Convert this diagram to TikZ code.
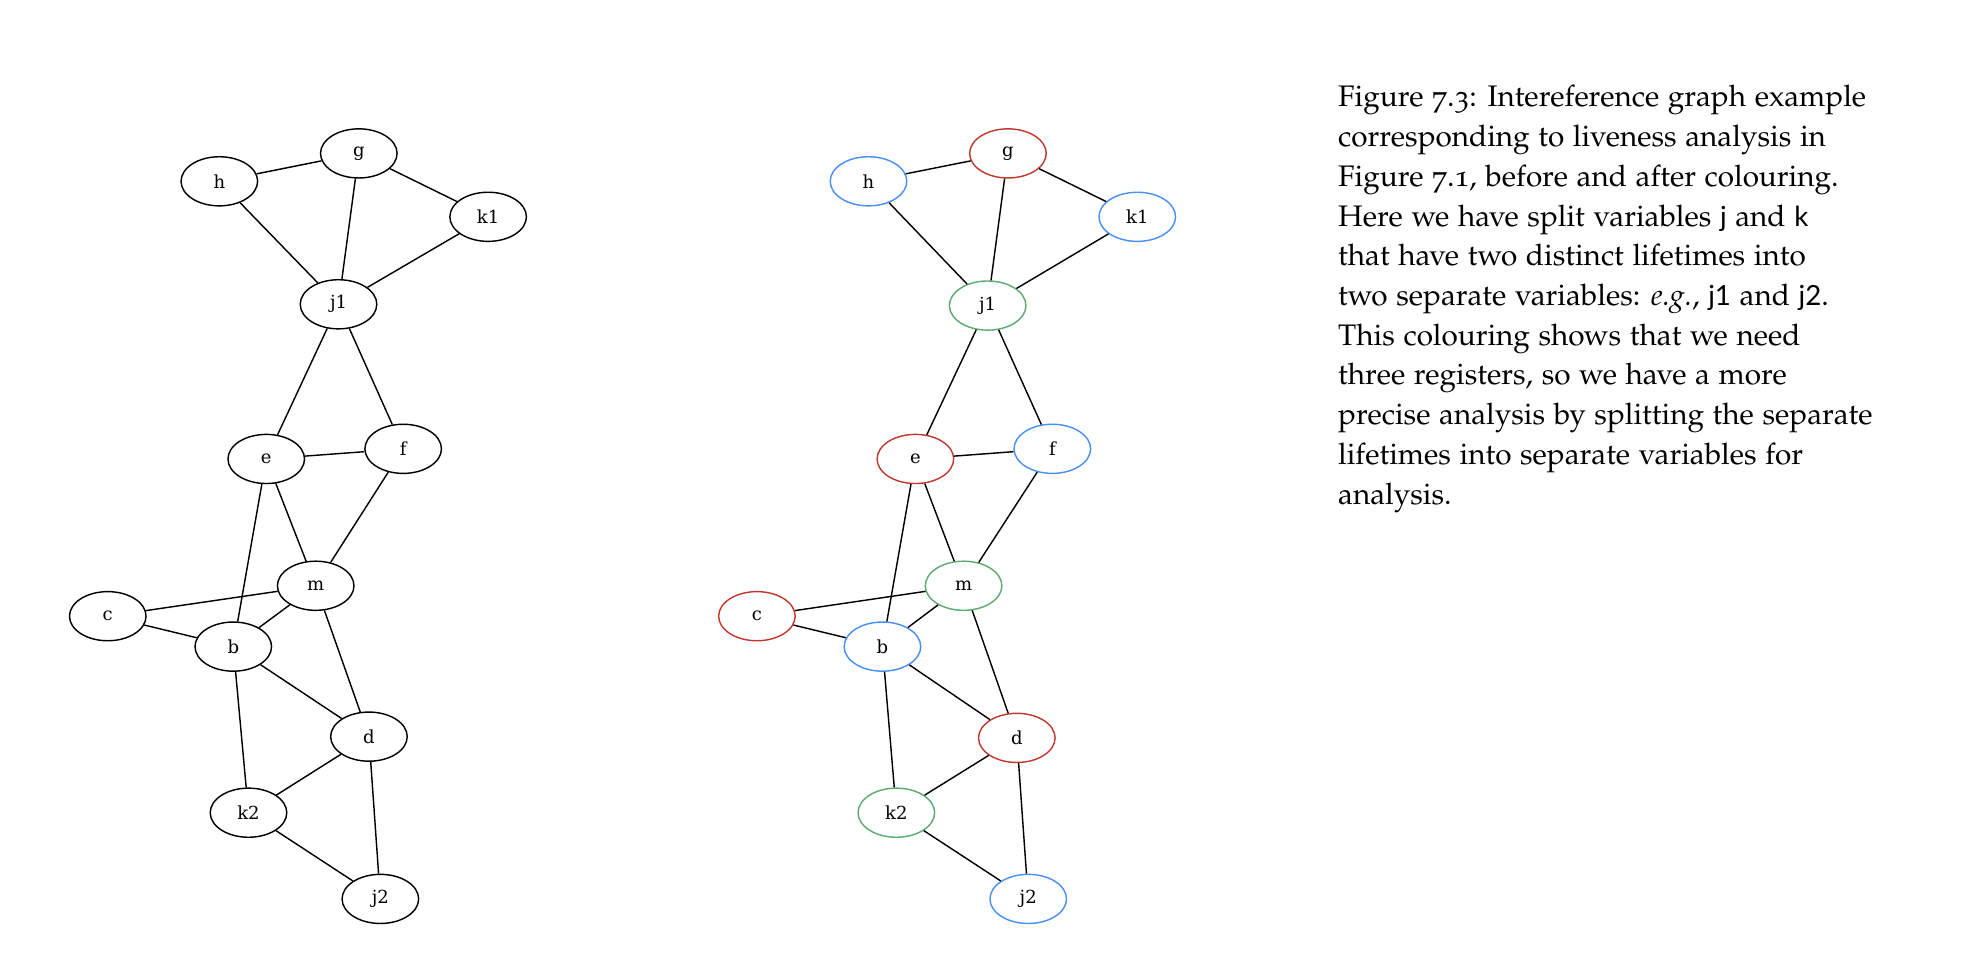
\documentclass[tikz,border=0pt]{standalone}
\usepackage{fontspec}
\newfontfamily\labelfont{DejaVu Serif}
\newfontfamily\sansvar{Lato}
\usepackage[T1]{fontenc}
\usepackage[osf]{mathpazo}
\usetikzlibrary{shapes.geometric}
\definecolor{cred}{RGB}{192,57,48}
\definecolor{cblue}{RGB}{74,144,240}
\definecolor{cgreen}{RGB}{92,170,112}
\newcommand{\varsf}[1]{{\sansvar\fontsize{9.7}{13.9}\selectfont #1}}
\begin{document}
\begin{tikzpicture}[x=0.4438pt,y=-0.4438pt,
  vnode/.style={ellipse,draw,line width=0.5pt,minimum width=26.8pt,minimum height=17.2pt,inner sep=0pt,
    font=\labelfont\fontsize{6.3}{8}\selectfont},
  link/.style={line width=0.5pt},
  redn/.style={vnode,draw=cred},
  bluen/.style={vnode,draw=cblue},
  greenn/.style={vnode,draw=cgreen}]
\useasboundingbox (0,0) rectangle (1568,770);
% left graph
\node[vnode] (g) at (283,121) {g};
\node[vnode] (h) at (173,143) {h};
\node[vnode] (k1) at (385,171) {k1};
\node[vnode] (j1) at (267,240) {j1};
\node[vnode] (e) at (210,362) {e};
\node[vnode] (f) at (318,354) {f};
\node[vnode] (m) at (249,462) {m};
\node[vnode] (c) at (85,486) {c};
\node[vnode] (b) at (184,510) {b};
\node[vnode] (d) at (291,581) {d};
\node[vnode] (k2) at (196,641) {k2};
\node[vnode] (j2) at (300,709) {j2};
\foreach \u/\v in {h/g,g/k1,g/j1,h/j1,k1/j1,j1/e,j1/f,e/f,e/m,f/m,e/b,m/c,c/b,m/b,m/d,b/d,b/k2,d/k2,d/j2,k2/j2}
  \draw[link] (\u) -- (\v);
% right graph
\node[redn] (G) at (795,121) {g};
\node[bluen] (H) at (685,143) {h};
\node[bluen] (K1) at (897,171) {k1};
\node[greenn] (J1) at (779,241) {j1};
\node[redn] (E) at (722,362) {e};
\node[bluen] (F) at (830,354) {f};
\node[greenn] (M) at (760,462) {m};
\node[redn] (C) at (597,486) {c};
\node[bluen] (B) at (696,510) {b};
\node[redn] (D) at (802,582) {d};
\node[greenn] (K2) at (707,641) {k2};
\node[bluen] (J2) at (811,709) {j2};
\foreach \u/\v in {H/G,G/K1,G/J1,H/J1,K1/J1,J1/E,J1/F,E/F,E/M,F/M,E/B,M/C,C/B,M/B,M/D,B/D,B/K2,D/K2,D/J2,K2/J2}
  \draw[link] (\u) -- (\v);
% caption
\node[anchor=north west,inner sep=0pt,align=left,font=\fontsize{10.4}{13.9}\selectfont] (cap) at (1055,62)
{\strut Figure 7.3: Intereference graph example\\
corresponding to liveness analysis in\\
Figure 7.1, before and after colouring.\\
Here we have split variables \varsf{j} and \varsf{k}\\
that have two distinct lifetimes into\\
two separate variables: \emph{e.g.}, \varsf{j1} and \varsf{j2}.\\
This colouring shows that we need\\
three registers, so we have a more\\
precise analysis by splitting the separate\\
lifetimes into separate variables for\\
analysis.};
\end{tikzpicture}
\end{document}
